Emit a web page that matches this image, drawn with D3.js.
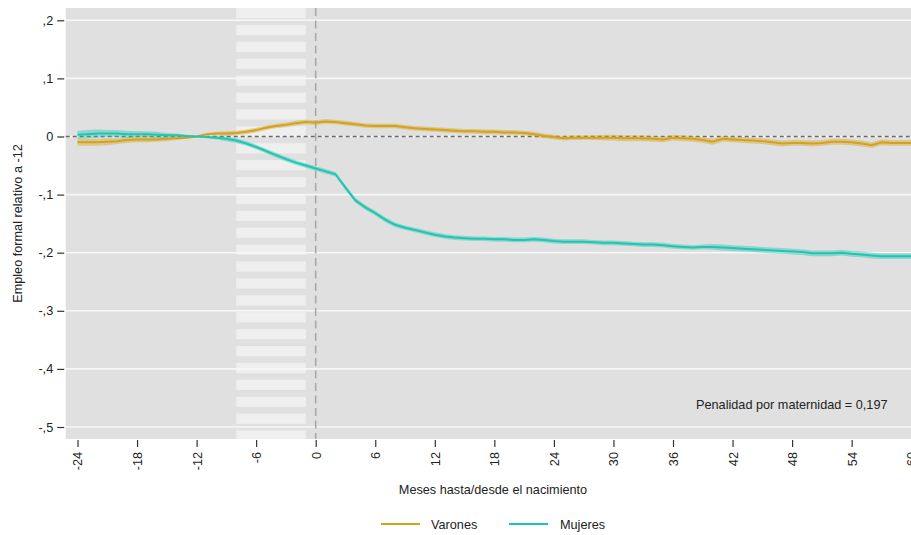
<!DOCTYPE html>
<html><head><meta charset="utf-8">
<script src="https://cdn.jsdelivr.net/npm/d3@7"></script>
<style>
html,body{margin:0;padding:0;background:#fff;}
svg{display:block;font-family:"Liberation Sans",Arial,sans-serif;}
</style></head>
<body><svg id="c" width="911" height="535"></svg>
<script>
const months = d3.range(-24, 61);
const varones = [-0.010,-0.010,-0.010,-0.009,-0.008,-0.006,-0.005,-0.005,-0.005,-0.004,-0.003,-0.002,0.000,
 0.004,0.005,0.005,0.006,0.008,0.011,0.015,0.018,0.020,0.023,0.025,0.024,0.026,0.025,0.023,0.021,0.019,
 0.018,0.018,0.018,0.016,0.014,0.013,0.012,0.011,0.010,0.009,0.009,0.008,0.008,0.007,0.007,0.006,0.004,
 0.001,-0.001,-0.003,-0.002,-0.002,-0.002,-0.002,-0.002,-0.003,-0.003,-0.003,-0.004,-0.005,-0.002,-0.003,
 -0.004,-0.006,-0.009,-0.004,-0.005,-0.006,-0.007,-0.008,-0.010,-0.012,-0.011,-0.011,-0.012,-0.011,-0.009,
 -0.009,-0.010,-0.012,-0.015,-0.010,-0.011,-0.011,-0.011];
const mujeres = [0.003,0.004,0.005,0.005,0.005,0.004,0.004,0.004,0.003,0.002,0.002,0.001,0.000,
 -0.001,-0.002,-0.004,-0.007,-0.012,-0.018,-0.025,-0.032,-0.039,-0.045,-0.050,-0.055,-0.060,-0.065,-0.088,
 -0.110,-0.122,-0.132,-0.143,-0.152,-0.157,-0.161,-0.165,-0.169,-0.172,-0.174,-0.175,-0.176,-0.176,-0.177,
 -0.177,-0.178,-0.178,-0.177,-0.178,-0.180,-0.181,-0.181,-0.181,-0.182,-0.183,-0.183,-0.184,-0.185,-0.186,
 -0.186,-0.187,-0.189,-0.190,-0.191,-0.190,-0.190,-0.191,-0.192,-0.193,-0.194,-0.195,-0.196,-0.197,-0.198,
 -0.199,-0.201,-0.201,-0.201,-0.200,-0.202,-0.203,-0.205,-0.206,-0.206,-0.206,-0.206];
const ciVarones = [0.006,0.006,0.006,0.006,0.005,0.005,0.005,0.005,0.004,0.004,0.003,0.002,0.000,
 0.002,0.003,0.004,0.004,0.004,0.004,0.004,0.004,0.004,0.004,0.004,0.004,0.004,0.004,0.004,0.004,0.004,
 0.004,0.004,0.004,0.004,0.004,0.004,0.004,0.004,0.004,0.004,0.004,0.004,0.004,0.004,0.004,0.004,0.004,
 0.004,0.004,0.004,0.004,0.004,0.004,0.005,0.005,0.005,0.005,0.005,0.005,0.005,0.005,0.005,0.005,0.005,
 0.005,0.005,0.005,0.005,0.005,0.005,0.005,0.005,0.005,0.005,0.005,0.005,0.005,0.005,0.005,0.005,0.005,
 0.005,0.005,0.005,0.005];
const ciMujeres = [0.007,0.007,0.007,0.006,0.006,0.006,0.005,0.005,0.005,0.004,0.003,0.002,0.000,
 0.002,0.003,0.004,0.004,0.004,0.004,0.004,0.004,0.004,0.004,0.004,0.004,0.004,0.004,0.004,0.004,0.004,
 0.004,0.004,0.004,0.004,0.004,0.004,0.004,0.004,0.004,0.004,0.004,0.004,0.004,0.004,0.004,0.004,0.004,
 0.004,0.004,0.004,0.004,0.004,0.004,0.004,0.004,0.004,0.004,0.004,0.004,0.004,0.004,0.004,0.004,0.004,
 0.005,0.005,0.005,0.005,0.005,0.005,0.005,0.005,0.005,0.005,0.005,0.005,0.005,0.005,0.005,0.005,0.005,
 0.005,0.005,0.005,0.005];
const xTicks = [-24,-18,-12,-6,0,6,12,18,24,30,36,42,48,54,60];
const yTicks = [0.2,0.1,0,-0.1,-0.2,-0.3,-0.4,-0.5];
const yTickLabels = [",2",",1","0","-,1","-,2","-,3","-,4","-,5"];
const shadeRange = [-8, -1];
const seriesNames = ["Varones","Mujeres"];
const penaltyText = "Penalidad por maternidad = 0,197";

const colV = "#d4a21c", colM = "#1fc6b2";
const FS = 12.7;
const L = 65.7, R = 920, T = 8, B = 439;
const svg = d3.select("#c");
const x = d3.scaleLinear().domain([-24, 60]).range([77.5, 911.2]);
const y = d3.scaleLinear().domain([0.2, -0.5]).range([20.3, 427]);

// background
svg.append("rect").attr("x", L).attr("y", T).attr("width", R - L).attr("height", B - T).attr("fill", "#e0e0e0");
// striped shaded region
const sx0 = x(shadeRange[0]), sx1 = x(shadeRange[1]);
const stripes = d3.range(T, B, 16.9);
svg.append("g").selectAll("rect").data(stripes).join("rect")
  .attr("x", sx0).attr("width", sx1 - sx0)
  .attr("y", d => d).attr("height", d => Math.min(10.2, B - d))
  .attr("fill", "#efefef");
// gridlines
svg.append("g").selectAll("line").data(yTicks).join("line")
  .attr("x1", L).attr("x2", R).attr("y1", d => y(d)).attr("y2", d => y(d))
  .attr("stroke", "#f7f7f7").attr("stroke-width", 1.6);

// y axis
const yAxis = d3.axisLeft(y).tickValues(yTicks).tickSize(7).tickPadding(4)
  .tickFormat((d, i) => yTickLabels[i]);
const gy = svg.append("g").attr("transform", `translate(${L - 1.5},0)`).call(yAxis);
gy.select(".domain").remove();
gy.selectAll("line").attr("stroke", "#333").attr("stroke-width", 1.2);
gy.selectAll("text").attr("font-size", FS).attr("fill", "#222").attr("font-family", "Liberation Sans, Arial, sans-serif");

// x axis
const xAxis = d3.axisBottom(x).tickValues(xTicks).tickSize(7).tickPadding(4).tickFormat(d => String(d));
const gx = svg.append("g").attr("transform", `translate(0,${B + 1})`).call(xAxis);
gx.select(".domain").remove();
gx.selectAll("line").attr("stroke", "#333").attr("stroke-width", 1.2);
gx.selectAll("text").attr("font-size", FS).attr("fill", "#222").attr("font-family", "Liberation Sans, Arial, sans-serif")
  .attr("transform", "rotate(-90)").attr("text-anchor", "end").attr("dy", "0.35em").attr("y", 0).attr("x", -12);

// reference lines
svg.append("line").attr("x1", x(0)).attr("x2", x(0)).attr("y1", T).attr("y2", B)
  .attr("stroke", "#a9a9a9").attr("stroke-width", 1.6).attr("stroke-dasharray", "8,4.5");
svg.append("line").attr("x1", L).attr("x2", R).attr("y1", y(0)).attr("y2", y(0))
  .attr("stroke", "#6a6a6a").attr("stroke-width", 1.6).attr("stroke-dasharray", "4,3");

// bands and lines
const series = [
  {name: seriesNames[0], vals: varones, ci: ciVarones, col: colV},
  {name: seriesNames[1], vals: mujeres, ci: ciMujeres, col: colM}
];
const area = d3.area().x(d => x(d.m)).y0(d => y(d.v - d.c)).y1(d => y(d.v + d.c));
const line = d3.line().x(d => x(d.m)).y(d => y(d.v));
series.forEach(s => {
  const pts = months.map((m, i) => ({m, v: s.vals[i], c: s.ci[i]}));
  svg.append("path").datum(pts).attr("d", area).attr("fill", s.col).attr("opacity", 0.42);
  svg.append("path").datum(pts).attr("d", line).attr("fill", "none").attr("stroke", s.col).attr("stroke-width", 2);
});

// annotation
svg.append("text").attr("x", 696).attr("y", 409).attr("font-size", FS).attr("fill", "#222").text(penaltyText);

// axis titles
svg.append("text").attr("transform", `translate(22,${(T + B) / 2}) rotate(-90)`).attr("text-anchor", "middle")
  .attr("font-size", FS).attr("fill", "#222").text("Empleo formal relativo a -12");
svg.append("text").attr("x", 493).attr("y", 494).attr("text-anchor", "middle")
  .attr("font-size", FS).attr("fill", "#222").text("Meses hasta/desde el nacimiento");

// legend
const lg = svg.append("g");
const legendPos = [{lx: 381, tx: 431}, {lx: 509, tx: 560}];
series.forEach((s, i) => {
  lg.append("line").attr("x1", legendPos[i].lx).attr("x2", legendPos[i].lx + 39).attr("y1", 524).attr("y2", 524)
    .attr("stroke", s.col).attr("stroke-width", 2);
  lg.append("text").attr("x", legendPos[i].tx).attr("y", 528.5).attr("font-size", FS).attr("fill", "#222").text(s.name);
});
</script></body></html>
